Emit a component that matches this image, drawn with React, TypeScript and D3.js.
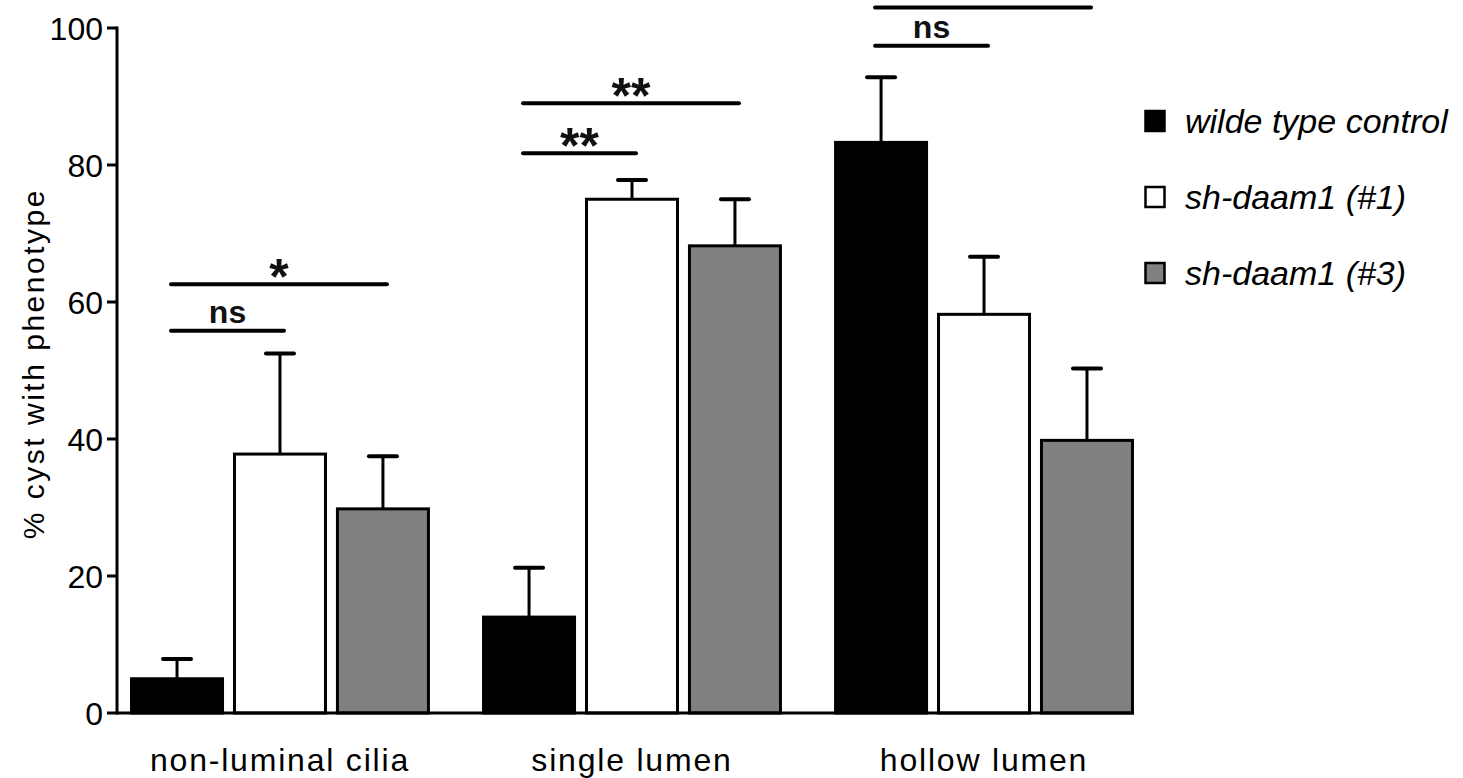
import React from "react";
import * as d3 from "d3";

const categories = ["non-luminal cilia", "single lumen", "hollow lumen"];
const seriesNames = ["wilde type control", "sh-daam1 (#1)", "sh-daam1 (#3)"];
const seriesFill = ["#000000", "#ffffff", "#808080"];
// means per category, by series
const wildType = [5, 14, 83.3];
const sh1 = [37.8, 75, 58.2];
const sh3 = [29.8, 68.2, 39.8];
// upper error (mean + SEM)
const wildTypeErr = [7.9, 21.2, 92.8];
const sh1Err = [52.5, 77.8, 66.6];
const sh3Err = [37.5, 75, 50.3];
const yTicks = [0, 20, 40, 60, 80, 100];

// significance brackets: category index, from series, to series, y value, label
const sigCats = [0, 0, 1, 1, 2, 2];
const sigFrom = [0, 0, 0, 0, 0, 0];
const sigTo = [1, 2, 1, 2, 1, 2];
const sigY = [55.8, 62.6, 81.7, 89.0, 97.4, 103.0];
const sigLabel = ["ns", "*", "**", "**", "ns", ""];

export default function App() {
  const W = 1463, H = 778;
  const y = d3.scaleLinear().domain([0, 100]).range([713, 28]);
  const x0 = d3.scaleBand<string>().domain(categories).range([117, 1147]).paddingInner(0.148).paddingOuter(0.037);
  const x1 = d3.scaleBand<string>().domain(seriesNames).range([0, x0.bandwidth()]).paddingInner(0.087);
  const values = [wildType, sh1, sh3];
  const errs = [wildTypeErr, sh1Err, sh3Err];
  const font = "'Liberation Sans', Arial, Helvetica, sans-serif";
  const sw = 3;
  const lastRight = (x0(categories[2]) as number) + x0.bandwidth();

  return (
    <svg width={W} height={H} style={{ position: "absolute", left: 0, top: 0, background: "#fff" }} fontFamily={font}>
      {/* bars */}
      {categories.map((c, ci) => (
        <g key={c} transform={`translate(${x0(c)},0)`}>
          {seriesNames.map((s, si) => {
            const bx = x1(s) as number;
            const bw = x1.bandwidth();
            const v = values[si][ci];
            const e = errs[si][ci];
            const cx = bx + bw / 2;
            return (
              <g key={s}>
                <line x1={cx} x2={cx} y1={y(v)} y2={y(e)} stroke="#000" strokeWidth={sw} />
                <line x1={cx - 14} x2={cx + 14} y1={y(e)} y2={y(e)} stroke="#000" strokeWidth={4} strokeLinecap="round" />
                <rect x={bx + sw / 2} y={y(v)} width={bw - sw} height={y(0) - y(v)} fill={seriesFill[si]} stroke="#000" strokeWidth={sw} />
              </g>
            );
          })}
        </g>
      ))}
      {/* axes */}
      <line x1={117} x2={lastRight} y1={y(0)} y2={y(0)} stroke="#000" strokeWidth={sw} />
      <line x1={117} x2={117} y1={y(0) + 1.5} y2={y(100) - 1.5} stroke="#000" strokeWidth={sw} />
      {yTicks.map((t) => (
        <g key={t}>
          <line x1={107} x2={117} y1={y(t)} y2={y(t)} stroke="#000" strokeWidth={sw} />
          <text x={103} y={y(t)} dy="0.36em" textAnchor="end" fontSize={32}>{t}</text>
        </g>
      ))}
      <text transform={`translate(44,${y(51)}) rotate(-90)`} textAnchor="middle" fontSize={30} letterSpacing={2.5}>% cyst with phenotype</text>
      {categories.map((c) => (
        <text key={c} x={(x0(c) as number) + x0.bandwidth() / 2} y={771} textAnchor="middle" fontSize={32} letterSpacing={1.8}>{c}</text>
      ))}
      {/* significance */}
      {sigCats.map((ci, i) => {
        const c = categories[ci];
        const a = (x0(c) as number) + (x1(seriesNames[sigFrom[i]]) as number) + x1.bandwidth() / 2 - 6;
        const b = (x0(c) as number) + (x1(seriesNames[sigTo[i]]) as number) + x1.bandwidth() / 2 + 4;
        const yy = y(sigY[i]);
        const isNs = sigLabel[i] === "ns";
        return (
          <g key={i}>
            <line x1={a} x2={b} y1={yy} y2={yy} stroke="#000" strokeWidth={4} strokeLinecap="round" />
            {sigLabel[i] && (
              <text x={(a + b) / 2} y={isNs ? yy - 8 : yy + 10} textAnchor="middle" fontSize={isNs ? 32 : 50} fontWeight="bold" fill="#111">{sigLabel[i]}</text>
            )}
          </g>
        );
      })}
      {/* legend */}
      {seriesNames.map((s, si) => (
        <g key={s} transform={`translate(1144,${121 + si * 76})`}>
          <rect x={1.5} y={-10} width={19} height={20} fill={seriesFill[si]} stroke="#000" strokeWidth={2.5} />
          <text x={41} y={0} dy="0.36em" fontSize={34} fontStyle="italic">{s}</text>
        </g>
      ))}
    </svg>
  );
}
